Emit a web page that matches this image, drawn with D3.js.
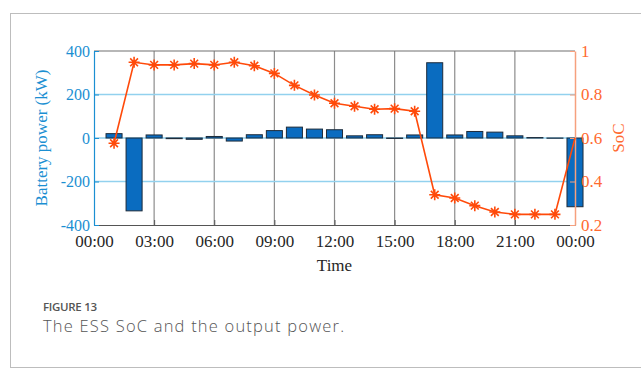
<!DOCTYPE html>
<html>
<head>
<meta charset="utf-8">
<script src="https://cdn.jsdelivr.net/npm/d3@7"></script>
<style>
  html, body { margin: 0; padding: 0; background: #fff; }
  svg { display: block; }
</style>
</head>
<body>
<svg id="chart" width="641" height="369"></svg>
<script>
// Hourly battery output power (kW) and state of charge
const hours = [1, 2, 3, 4, 5, 6, 7, 8, 9, 10, 11, 12, 13, 14, 15, 16, 17, 18, 19, 20, 21, 22, 23, 24];
const batteryPower = [20, -335, 14, -3, -6, 7, -14, 15, 34, 50, 41, 38, 10, 15, -2, 14, 346, 14, 30, 27, 10, 2, -1, -316];
const socValues = [0.576, 0.948, 0.936, 0.936, 0.942, 0.936, 0.948, 0.932, 0.897, 0.842, 0.798, 0.760, 0.746, 0.732, 0.735, 0.723, 0.339, 0.324, 0.289, 0.260, 0.249, 0.249, 0.249, 0.6];
const xTickHours = [0, 3, 6, 9, 12, 15, 18, 21, 24];
const xTickLabels = ["00:00", "03:00", "06:00", "09:00", "12:00", "15:00", "18:00", "21:00", "00:00"];
const powerTicks = [-400, -200, 0, 200, 400];
const socTicks = [0.2, 0.4, 0.6, 0.8, 1];

const svg = d3.select("#chart");
const plot = { left: 94, right: 575, top: 51, bottom: 225 };

const x = d3.scaleLinear().domain([0, 24]).range([plot.left, plot.right]);
const yP = d3.scaleLinear().domain([-400, 400]).range([plot.bottom, plot.top]);
const yS = d3.scaleLinear().domain([0.2, 1]).range([plot.bottom, plot.top]);

const blue = "#1b8fd2";
const orange = "#ff4a0a";
const serif = "'Liberation Serif', 'Times New Roman', serif";

// figure frame
svg.append("rect")
  .attr("x", 10.5).attr("y", 13.5)
  .attr("width", 660).attr("height", 354)
  .attr("fill", "none").attr("stroke", "#bdbdbd").attr("stroke-width", 1);

// vertical grid
svg.append("g")
  .selectAll("line")
  .data(xTickHours.slice(1, -1))
  .join("line")
  .attr("x1", d => x(d)).attr("x2", d => x(d))
  .attr("y1", plot.top).attr("y2", plot.bottom)
  .attr("stroke", "#8c8c8c").attr("stroke-width", 1.2);

// horizontal grid
svg.append("g")
  .selectAll("line")
  .data(powerTicks.slice(1, -1))
  .join("line")
  .attr("x1", plot.left).attr("x2", plot.right)
  .attr("y1", d => yP(d)).attr("y2", d => yP(d))
  .attr("stroke", "#92d1ee").attr("stroke-width", 1.5);

// power bars
const barW = (x(1) - x(0)) * 0.8;
svg.append("g")
  .selectAll("rect")
  .data(hours.map((h, i) => ({ h, v: batteryPower[i] })))
  .join("rect")
  .attr("x", d => x(d.h) - barW / 2)
  .attr("width", barW)
  .attr("y", d => yP(Math.max(0, d.v)))
  .attr("height", d => Math.abs(yP(d.v) - yP(0)))
  .attr("fill", "#0a6cc0")
  .attr("stroke", "#1d2b3a")
  .attr("stroke-width", 1);

// top frame line
svg.append("line")
  .attr("x1", plot.left).attr("x2", plot.right)
  .attr("y1", plot.top).attr("y2", plot.top)
  .attr("stroke", "#707070").attr("stroke-width", 1.2);

// bottom axis
const xAxis = d3.axisBottom(x)
  .tickValues(xTickHours)
  .tickFormat((d, i) => xTickLabels[i])
  .tickSizeInner(-5).tickSizeOuter(0).tickPadding(10);
const gx = svg.append("g")
  .attr("transform", `translate(0,${plot.bottom})`)
  .call(xAxis);
gx.select(".domain").attr("stroke", "#555").attr("stroke-width", 1.2);
gx.selectAll(".tick line").attr("stroke", "#555");
gx.selectAll(".tick text")
  .attr("fill", "#262626")
  .style("font-family", serif).style("font-size", "17px");

// left axis (plain hyphen for negatives)
const yAxisL = d3.axisLeft(yP)
  .tickValues(powerTicks)
  .tickFormat(d => String(d))
  .tickSizeInner(-5).tickSizeOuter(0).tickPadding(4);
const gl = svg.append("g")
  .attr("transform", `translate(${plot.left},0)`)
  .call(yAxisL);
gl.select(".domain").attr("stroke", blue).attr("stroke-width", 1.2);
gl.selectAll(".tick line").attr("stroke", blue);
gl.selectAll(".tick text")
  .attr("fill", blue)
  .style("font-family", serif).style("font-size", "16px");

// right axis
const yAxisR = d3.axisRight(yS)
  .tickValues(socTicks)
  .tickFormat(d => d === 1 ? "1" : d3.format(".1f")(d))
  .tickSizeInner(-5).tickSizeOuter(0).tickPadding(6);
const gr = svg.append("g")
  .attr("transform", `translate(${plot.right},0)`)
  .call(yAxisR);
gr.select(".domain").attr("stroke", "#f6a07e").attr("stroke-width", 1.5);
gr.selectAll(".tick line").attr("stroke", "#f6a07e");
gr.selectAll(".tick text")
  .attr("fill", "#ff6a30")
  .style("font-family", serif).style("font-size", "17px");

// SoC line
const socPts = hours.map((h, i) => ({ h, s: socValues[i] }));
svg.append("path")
  .datum(socPts)
  .attr("fill", "none")
  .attr("stroke", orange)
  .attr("stroke-width", 1.6)
  .attr("d", d3.line().x(d => x(d.h)).y(d => yS(d.s)));

// asterisk markers on the hourly SoC samples
const r = 5.5, rd = r * Math.SQRT1_2;
const starPath = `M${-r},0L${r},0M0,${-r}L0,${r}M${-rd},${-rd}L${rd},${rd}M${-rd},${rd}L${rd},${-rd}`;
svg.append("g")
  .selectAll("path")
  .data(socPts.slice(0, -1))
  .join("path")
  .attr("transform", d => `translate(${x(d.h)},${yS(d.s)})`)
  .attr("d", starPath)
  .attr("stroke", orange)
  .attr("stroke-width", 1.6)
  .attr("fill", "none");

// axis titles
svg.append("text")
  .attr("transform", `translate(47,${(plot.top + plot.bottom) / 2}) rotate(-90)`)
  .attr("text-anchor", "middle")
  .attr("fill", blue)
  .style("font-family", serif).style("font-size", "17px")
  .text("Battery power (kW)");

svg.append("text")
  .attr("transform", `translate(624,${(plot.top + plot.bottom) / 2}) rotate(-90)`)
  .attr("text-anchor", "middle")
  .attr("fill", "#ff6a30")
  .style("font-family", serif).style("font-size", "17px")
  .text("SoC");

svg.append("text")
  .attr("x", (plot.left + plot.right) / 2)
  .attr("y", 271)
  .attr("text-anchor", "middle")
  .attr("fill", "#262626")
  .style("font-family", serif).style("font-size", "17px")
  .text("Time");

// caption
svg.append("text")
  .attr("x", 43).attr("y", 311)
  .attr("fill", "#555")
  .style("font-family", "'Open Sans', sans-serif")
  .style("font-size", "11.5px").style("font-weight", 600)
  .style("letter-spacing", "-0.3px")
  .text("FIGURE 13");

svg.append("text")
  .attr("x", 43).attr("y", 332)
  .attr("fill", "#555")
  .style("font-family", "'Open Sans', sans-serif")
  .style("font-size", "16.5px").style("font-weight", 300)
  .style("letter-spacing", "1.2px")
  .text("The ESS SoC and the output power.");
</script>
</body>
</html>
